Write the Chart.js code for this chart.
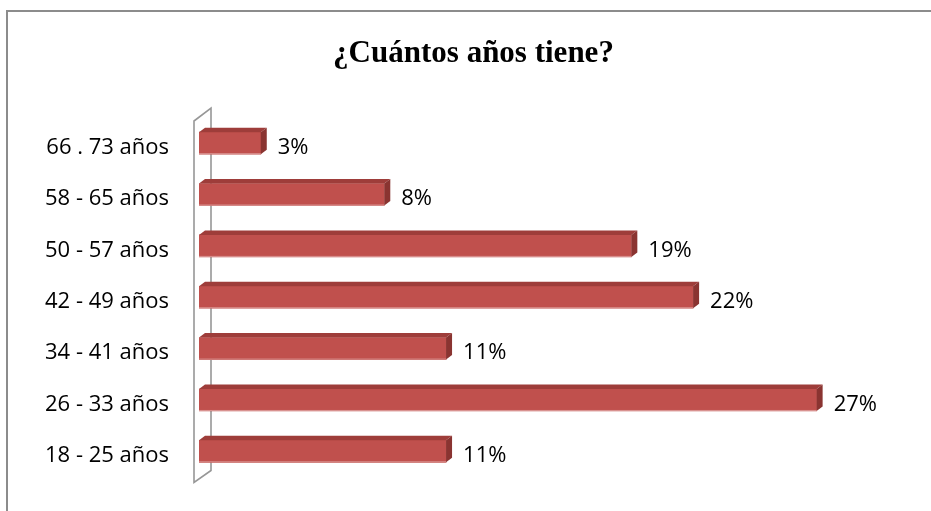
<!DOCTYPE html>
<html>
<head>
<meta charset="utf-8">
<title>¿Cuántos años tiene?</title>
<script src="https://cdn.jsdelivr.net/npm/chart.js@4.4.1/dist/chart.umd.min.js"></script>
<style>
    html, body { margin: 0; padding: 0; background: #fff; overflow: hidden; }
    #marco {
        position: absolute; left: 6px; top: 10px;
        width: 1000px; height: 600px;
        border: 2px solid #8c8c8c; box-sizing: border-box;
    }
    #grafico { position: absolute; left: 0; top: 0; }
</style>
</head>
<body>
<div id="marco"></div>
<canvas id="grafico" width="931" height="511"></canvas>
<script>
// 데이터 (위에서 아래 순서)
const titulo = '¿Cuántos años tiene?';
const categorias = ['66 . 73 años', '58 - 65 años', '50 - 57 años', '42 - 49 años', '34 - 41 años', '26 - 33 años', '18 - 25 años'];
const porcentajes = [2.7, 8.1, 18.9, 21.6, 10.8, 27.0, 10.8];
const etiquetas = ['3%', '8%', '19%', '22%', '11%', '27%', '11%'];

const fuenteTexto = "'Open Sans', 'DejaVu Sans', sans-serif";

// 3D 효과 (벽 + 막대 윗면/옆면 + 값 라벨)
const efecto3D = {
    id: 'efecto3D',
    beforeDatasetsDraw(chart) {
        const {ctx, chartArea} = chart;
        const l = chartArea.left, t = chartArea.top, b = chartArea.bottom;
        ctx.save();
        ctx.strokeStyle = '#979797';
        ctx.lineWidth = 1.6;
        ctx.beginPath();
        ctx.moveTo(l - 5, t + 3.5);
        ctx.lineTo(l + 12, t - 9.5);
        ctx.lineTo(l + 12, b - 6.5);
        ctx.lineTo(l - 5, b + 5.5);
        ctx.closePath();
        ctx.stroke();
        ctx.restore();
    },
    afterDatasetsDraw(chart) {
        const {ctx} = chart;
        const meta = chart.getDatasetMeta(0);
        const dx = 6, dy = -4.5;
        ctx.save();
        meta.data.forEach((bar, i) => {
            const {x, y, base, height} = bar.getProps(['x', 'y', 'base', 'height'], true);
            const top = y - height / 2;
            const bottom = y + height / 2;

            // 윗면
            ctx.fillStyle = '#9E3D3A';
            ctx.beginPath();
            ctx.moveTo(base, top);
            ctx.lineTo(base + dx, top + dy);
            ctx.lineTo(x + dx, top + dy);
            ctx.lineTo(x, top);
            ctx.closePath();
            ctx.fill();

            // 옆면
            ctx.fillStyle = '#8A3431';
            ctx.beginPath();
            ctx.moveTo(x, top);
            ctx.lineTo(x + dx, top + dy);
            ctx.lineTo(x + dx, bottom + dy);
            ctx.lineTo(x, bottom);
            ctx.closePath();
            ctx.fill();

            // 아래쪽 밝은 테두리
            ctx.fillStyle = '#DA9593';
            ctx.fillRect(base, bottom - 1, x - base, 1);

            // 값 라벨
            ctx.fillStyle = '#000';
            ctx.font = "22px " + fuenteTexto;
            ctx.textAlign = 'left';
            ctx.textBaseline = 'middle';
            ctx.fillText(etiquetas[i], x + 17, y + 4.5);
        });
        ctx.restore();
    }
};

new Chart(document.getElementById('grafico'), {
    type: 'bar',
    data: {
        labels: categorias,
        datasets: [{
            data: porcentajes,
            backgroundColor: '#C0504D',
            borderWidth: 0,
            barThickness: 22
        }]
    },
    options: {
        indexAxis: 'y',
        responsive: false,
        animation: false,
        layout: {
            padding: {top: 0, left: 16, right: 0, bottom: 34}
        },
        plugins: {
            legend: {display: false},
            tooltip: {enabled: false},
            title: {
                display: true,
                text: titulo,
                color: '#000',
                font: {family: "'Liberation Serif', 'Times New Roman', serif", size: 31, weight: 'bold', lineHeight: 1.2},
                padding: {top: 35.4, bottom: 44.9}
            }
        },
        scales: {
            x: {
                display: false,
                min: 0,
                max: 32
            },
            y: {
                grid: {display: false, drawTicks: false},
                border: {display: false},
                ticks: {
                    color: '#000',
                    padding: 30,
                    labelOffset: 4.5,
                    font: {family: fuenteTexto, size: 22}
                },
                afterFit(scale) {
                    scale.width = 183;
                    scale.paddingTop = 0;
                    scale.paddingBottom = 0;
                }
            }
        }
    },
    plugins: [efecto3D]
});
</script>
</body>
</html>
